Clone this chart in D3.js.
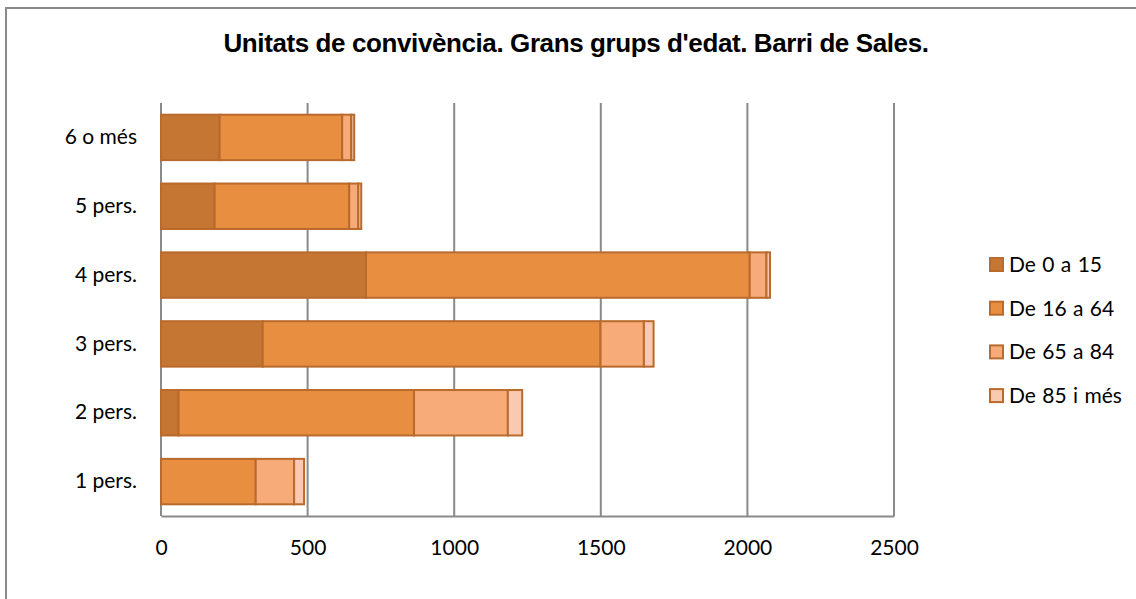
<!DOCTYPE html>
<html>
<head>
<meta charset="utf-8">
<style>
  body { margin: 0; background: #fff; }
  text { font-family: Lato, "Open Sans", sans-serif; fill: #000; }
</style>
</head>
<body>
<script src="https://d3js.org/d3.v7.min.js"></script>
<script>
// categories, top to bottom as drawn
const categories = ["6 o més", "5 pers.", "4 pers.", "3 pers.", "2 pers.", "1 pers."]
const groups = ["De 0 a 15", "De 16 a 64", "De 65 a 84", "De 85 i més"]

// values per age group, same order as categories
const age0to15 = [200, 183, 699, 347, 60, 0]
const age16to64 = [418, 459, 1309, 1152, 803, 323]
const age65to84 = [31, 31, 57, 148, 320, 131]
const age85plus = [10, 10, 12, 33, 49, 34]

const xTicks = [0, 500, 1000, 1500, 2000, 2500]
const colors = ["#c47632", "#e88e41", "#f6ab78", "#f9cab1"]

const w = 1136
const h = 599
const plotLeft = 161, plotRight = 894, plotTop = 103, plotBottom = 516

const svg = d3.select("body").append("svg").attr("width", w).attr("height", h)

// chart frame
svg.append("rect")
  .attr("x", 6).attr("y", 8).attr("width", w + 20).attr("height", h + 20)
  .attr("fill", "#fff").attr("stroke", "#8a8a8a").attr("stroke-width", 2)

svg.append("text")
  .attr("x", 576).attr("y", 52)
  .attr("text-anchor", "middle")
  .style("font-family", "'Liberation Sans', Arial, sans-serif")
  .style("font-weight", "bold").style("font-size", "26px")
  .style("letter-spacing", "-0.4px")
  .text("Unitats de convivència. Grans grups d'edat. Barri de Sales.")

const xScale = d3.scaleLinear().domain([0, 2500]).range([plotLeft, plotRight])
const yScale = d3.scaleBand().domain(categories).range([plotTop, plotBottom]).paddingInner(0.34).paddingOuter(0.17)

// gridlines
svg.append("g").selectAll("line").data(xTicks).enter().append("line")
  .attr("x1", d => xScale(d)).attr("x2", d => xScale(d))
  .attr("y1", plotTop).attr("y2", plotBottom)
  .attr("stroke", "#8a8a8a").attr("stroke-width", 2)

const xAxis = d3.axisBottom(xScale).tickValues(xTicks).tickFormat(d3.format("d")).tickSize(0).tickPadding(24)
const gx = svg.append("g").attr("transform", "translate(0," + plotBottom + ")").call(xAxis)
gx.select(".domain").attr("stroke", "#8a8a8a").attr("stroke-width", 2)
gx.selectAll("text").style("font-size", "21px").style("font-family", "Lato, sans-serif").attr("fill", "#000")

const yAxis = d3.axisLeft(yScale).tickSize(0).tickPadding(24)
const gy = svg.append("g").attr("transform", "translate(" + plotLeft + ",0)").call(yAxis)
gy.select(".domain").remove()
gy.selectAll("text").style("font-size", "21px").style("font-family", "Lato, sans-serif").attr("fill", "#000")

// stacked bars
const rows = categories.map((c, i) => ({
  cat: c,
  "De 0 a 15": age0to15[i],
  "De 16 a 64": age16to64[i],
  "De 65 a 84": age65to84[i],
  "De 85 i més": age85plus[i]
}))
const stacked = d3.stack().keys(groups)(rows)

svg.append("g").selectAll("g").data(stacked).enter().append("g")
  .attr("fill", (d, i) => colors[i])
  .selectAll("rect").data(d => d).enter().append("rect")
  .attr("x", d => xScale(d[0]))
  .attr("y", d => yScale(d.data.cat))
  .attr("width", d => xScale(d[1]) - xScale(d[0]))
  .attr("height", yScale.bandwidth())
  .attr("stroke", "#b96a2c").attr("stroke-width", 2)

// legend
const legend = svg.append("g").selectAll("g").data(groups).enter().append("g")
  .attr("transform", (d, i) => "translate(990," + (258 + i * 43.7) + ")")
legend.append("rect")
  .attr("width", 13).attr("height", 13)
  .attr("fill", (d, i) => colors[i]).attr("stroke", "#b96a2c").attr("stroke-width", 2)
legend.append("text")
  .attr("x", 19).attr("y", 14)
  .style("font-size", "21px")
  .style("word-spacing", "1px")
  .text(d => d)
</script>
</body>
</html>
